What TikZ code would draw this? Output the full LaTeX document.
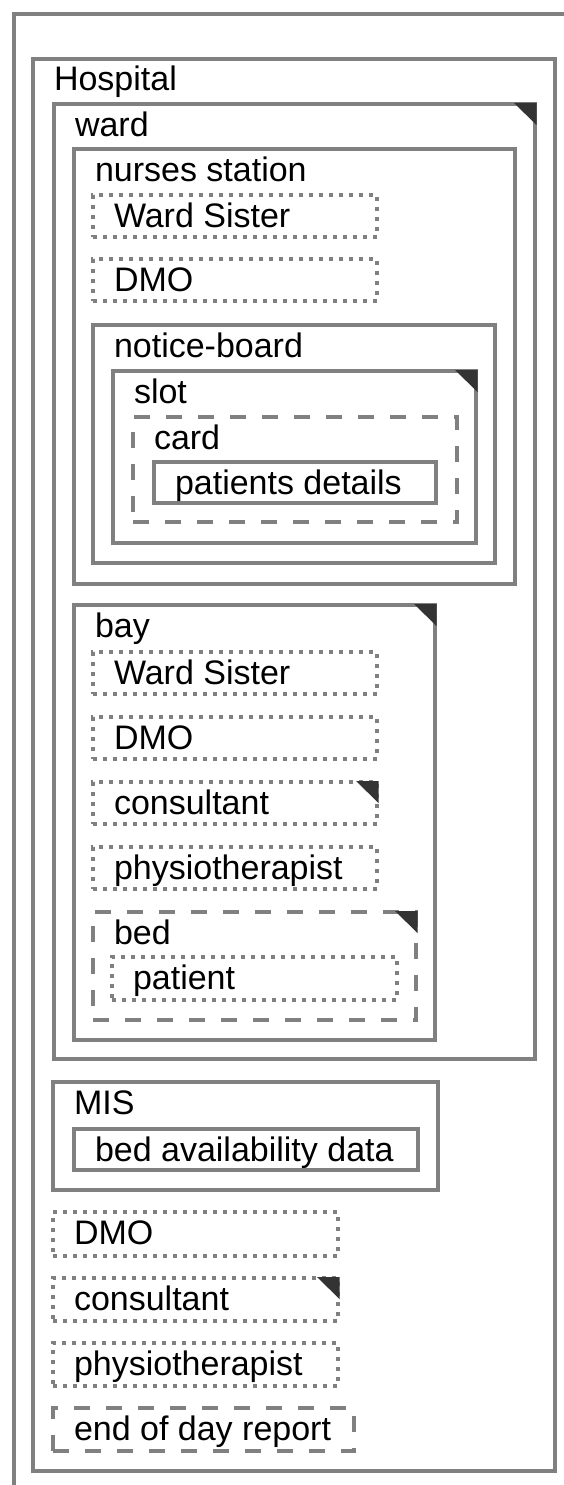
\documentclass[tikz,border=0pt]{standalone}
\usepackage{fontspec}
\setmainfont{Liberation Sans}
\usetikzlibrary{calc}
\definecolor{linegray}{HTML}{808080}
\definecolor{trigray}{HTML}{333333}
\tikzset{
  solidbox/.style={draw=linegray, line width=4.5pt, inner sep=0pt, outer sep=0pt},
  dotbox/.style={draw=linegray, line width=4pt, dash pattern=on 4pt off 6pt, inner sep=0pt, outer sep=0pt},
  dashbox/.style={draw=linegray, line width=4pt, dash pattern=on 16pt off 16pt, inner sep=0pt, outer sep=0pt},
  lbl/.style={anchor=base west, inner sep=0pt, outer sep=0pt, text=black, font=\fontsize{34}{40}\selectfont},
  tri/.style={fill=trigray},
  frame/.style={draw=linegray, line width=4.5pt}
}
\newcommand\mkbox[7]{%
  \node[#1, anchor=north west, minimum width={#5-#3}, minimum height={#6-#4}] (#2) at (#3,#4) {};
  \node[lbl] (#2-l) at ($(#2.north west)+(21,32)$) {#7};
}
\newcommand\mktri[1]{%
  \fill[tri] ($(#1.north east)+(-21,-1)$) -- ($(#1.north east)+(1.5,-1)$) -- ($(#1.north east)+(1.5,21)$) -- cycle;
}
\begin{document}
\begin{tikzpicture}[x=1pt,y=-1pt]
\useasboundingbox (0,0) rectangle (564,1485);
\coordinate (fr-tr) at (564,14);
\coordinate (fr-tl) at (14,14);
\coordinate (fr-bl) at (14,1485);
\draw[frame] (fr-tr) -- (fr-tl) -- (fr-bl);
% Hospital
\mkbox{solidbox}{hosp}{33}{59}{555}{1471}{Hospital}
% ward
\mkbox{solidbox}{ward}{54}{104}{535}{1059}{ward}
\mktri{ward}
% nurses station
\mkbox{solidbox}{ns}{74}{149}{515}{584}{nurses station}
\mkbox{dotbox}{ws1}{93}{195}{377}{237}{Ward Sister}
\mkbox{dotbox}{dmo1}{93}{259}{377}{301}{DMO}
\mkbox{solidbox}{nb}{93}{325}{495}{563}{notice-board}
\mkbox{solidbox}{slot}{113}{371}{476}{543}{slot}
\mktri{slot}
\mkbox{dashbox}{card}{133}{417}{457}{522}{card}
\mkbox{solidbox}{pd}{154}{462}{436}{503}{patients details}
% bay
\mkbox{solidbox}{bay}{74}{605}{435}{1040}{bay}
\mktri{bay}
\mkbox{dotbox}{ws2}{93}{652}{377}{694}{Ward Sister}
\mkbox{dotbox}{dmo2}{93}{717}{377}{759}{DMO}
\mkbox{dotbox}{cons2}{93}{782}{377}{824}{consultant}
\mktri{cons2}
\mkbox{dotbox}{phys2}{93}{847}{377}{889}{physiotherapist}
\mkbox{dashbox}{bed}{93}{912}{416}{1020}{bed}
\mktri{bed}
\mkbox{dotbox}{pat}{112}{957}{397}{1000}{patient}
% MIS
\mkbox{solidbox}{mis}{53}{1082}{438}{1190}{MIS}
\mkbox{solidbox}{bad}{74}{1129}{418}{1170}{bed availability data}
% loose
\mkbox{dotbox}{dmo3}{53}{1212}{338}{1256}{DMO}
\mkbox{dotbox}{cons3}{53}{1278}{338}{1321}{consultant}
\mktri{cons3}
\mkbox{dotbox}{phys3}{53}{1343}{338}{1386}{physiotherapist}
\mkbox{dashbox}{eod}{53}{1408}{354}{1451}{end of day report}
\end{tikzpicture}
\end{document}
